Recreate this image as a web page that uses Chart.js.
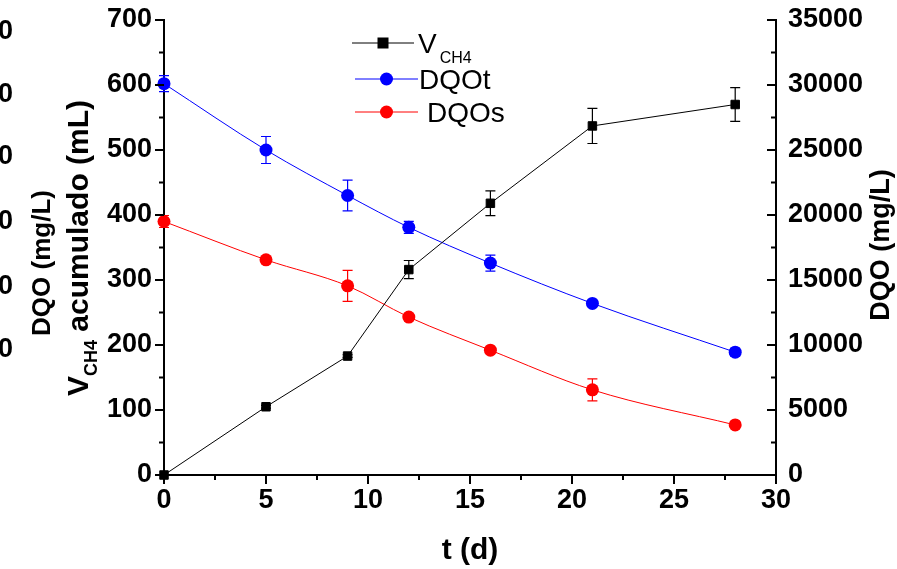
<!DOCTYPE html>
<html>
<head>
<meta charset="utf-8">
<script src="https://cdn.jsdelivr.net/npm/chart.js@4.4.0/dist/chart.umd.min.js"></script>
<style>
  html, body { margin: 0; padding: 0; background: #fff; }
  #wrap { width: 897px; height: 569px; }
</style>
</head>
<body>
<div id="wrap"><canvas id="grafico"></canvas></div>
<script>
// Dados
const dias = [0, 5, 9, 12, 16, 21, 28];
const volumeCH4 = [0, 105, 183, 316, 418, 537, 570];
const erroCH4 = [0, 2, 2, 14, 19, 27, 26];
const dqoTotal = [30100, 25000, 21500, 19050, 16300, 13200, 9450];
const erroDqoTotal = [615, 1040, 1190, 460, 615, 200, 300];
const dqoSoluvel = [19500, 16550, 14550, 12150, 9600, 6550, 3850];
const erroDqoSoluvel = [460, 230, 1190, 150, 150, 850, 100];
const ticksX = [0, 5, 10, 15, 20, 25, 30];
const ticksVolume = [0, 100, 200, 300, 400, 500, 600, 700];
const ticksDqo = [0, 5000, 10000, 15000, 20000, 25000, 30000, 35000];

const FONTE = "'Liberation Sans', Arial, sans-serif";

// Monta os pontos {x, y}
function pontos(valores) {
    return dias.map((d, i) => ({ x: d, y: valores[i] }));
}

// Desenha marcas maiores e menores de um eixo
function marcas(ctx, escala, valores, lado, area) {
    const passo = valores[1] - valores[0];
    const todos = [];
    valores.forEach((v, i) => {
        todos.push({ v: v, tam: 9 });
        if (i < valores.length - 1) todos.push({ v: v + passo / 2, tam: 5 });
    });
    ctx.beginPath();
    todos.forEach(t => {
        const p = escala.getPixelForValue(t.v);
        if (lado === 'esquerda') { ctx.moveTo(area.left, p); ctx.lineTo(area.left - t.tam, p); }
        if (lado === 'direita') { ctx.moveTo(area.right, p); ctx.lineTo(area.right - t.tam, p); }
        if (lado === 'baixo') { ctx.moveTo(p, area.bottom); ctx.lineTo(p, area.bottom + t.tam); }
    });
    ctx.stroke();
}

function marcador(ctx, tipo, cor, x, y) {
    ctx.fillStyle = cor;
    if (tipo === 'rect') {
        ctx.fillRect(x - 5.5, y - 5.5, 11, 11);
    } else {
        ctx.beginPath();
        ctx.arc(x, y, 6.5, 0, Math.PI * 2);
        ctx.fill();
    }
}

// Texto girado com parte em subscrito
function textoGirado(ctx, x, y, partes) {
    ctx.save();
    ctx.translate(x, y);
    ctx.rotate(-Math.PI / 2);
    ctx.textAlign = 'left';
    ctx.textBaseline = 'alphabetic';
    let total = 0;
    partes.forEach(p => { ctx.font = p.fonte; p.w = ctx.measureText(p.t).width; total += p.w; });
    let x0 = -total / 2;
    partes.forEach(p => {
        ctx.font = p.fonte;
        ctx.fillText(p.t, x0, p.dy || 0);
        x0 += p.w;
    });
    ctx.restore();
}

const extras = {
    id: 'extras',
    beforeDatasetsDraw(chart) {
        const ctx = chart.ctx;
        const ex = chart.scales.x;
        chart.data.datasets.forEach(ds => {
            const ey = chart.scales[ds.yAxisID];
            ctx.save();
            ctx.strokeStyle = ds.borderColor;
            ctx.lineWidth = 1.2;
            ds.erros.forEach((e, j) => {
                if (!e) return;
                const px = ex.getPixelForValue(ds.data[j].x);
                const p1 = ey.getPixelForValue(ds.data[j].y + e);
                const p2 = ey.getPixelForValue(ds.data[j].y - e);
                ctx.beginPath();
                ctx.moveTo(px, p1); ctx.lineTo(px, p2);
                ctx.moveTo(px - 5, p1); ctx.lineTo(px + 5, p1);
                ctx.moveTo(px - 5, p2); ctx.lineTo(px + 5, p2);
                ctx.stroke();
            });
            ctx.restore();
        });
    },
    afterDraw(chart) {
        const ctx = chart.ctx;
        const area = chart.chartArea;
        ctx.save();
        ctx.strokeStyle = '#000';
        ctx.lineWidth = 2;
        marcas(ctx, chart.scales.y, ticksVolume, 'esquerda', area);
        marcas(ctx, chart.scales.dqo, ticksDqo, 'direita', area);
        marcas(ctx, chart.scales.x, ticksX, 'baixo', area);

        ctx.fillStyle = '#000';
        // título do eixo x
        ctx.font = 'bold 30px ' + FONTE;
        ctx.textAlign = 'center';
        ctx.textBaseline = 'alphabetic';
        ctx.fillText('t (d)', (area.left + area.right) / 2, 559);

        // título do eixo direito
        textoGirado(ctx, 889, 245, [{ t: 'DQO (mg/L)', fonte: 'bold 27px ' + FONTE }]);

        // título do eixo esquerdo, com subscrito
        textoGirado(ctx, 88, 248, [
            { t: 'V', fonte: 'bold 30px ' + FONTE },
            { t: 'CH4', fonte: 'bold 18px ' + FONTE, dy: 9 },
            { t: ' acumulado (mL)', fonte: 'bold 30px ' + FONTE }
        ]);

        // restos de outro eixo cortado à esquerda
        textoGirado(ctx, 50, 263, [{ t: 'DQO (mg/L)', fonte: 'bold 26px ' + FONTE }]);
        ctx.font = 'bold 27px ' + FONTE;
        ctx.textAlign = 'right';
        ctx.textBaseline = 'middle';
        [32, 95, 157, 222, 287, 350].forEach(y => ctx.fillText('00', 13, y));

        // legenda
        const legenda = [
            { tipo: 'rect', cor: '#000000', y: 43, x1: 352, x2: 414, tx: 418, texto: 'V', sub: 'CH4' },
            { tipo: 'circle', cor: '#0000ff', y: 79, x1: 355, x2: 418, tx: 419, texto: 'DQOt' },
            { tipo: 'circle', cor: '#ff0000', y: 112, x1: 355, x2: 418, tx: 427, texto: 'DQOs' }
        ];
        ctx.textAlign = 'left';
        ctx.textBaseline = 'alphabetic';
        legenda.forEach(item => {
            ctx.strokeStyle = item.cor;
            ctx.lineWidth = 1;
            ctx.beginPath();
            ctx.moveTo(item.x1, item.y);
            ctx.lineTo(item.x2, item.y);
            ctx.stroke();
            marcador(ctx, item.tipo, item.cor, (item.x1 + item.x2) / 2, item.y);
            ctx.fillStyle = '#000';
            ctx.font = '28px ' + FONTE;
            ctx.fillText(item.texto, item.tx, item.y + 10);
            if (item.sub) {
                const w = ctx.measureText(item.texto).width;
                ctx.font = '16px ' + FONTE;
                ctx.fillText(item.sub, item.tx + w + 3, item.y + 20);
            }
        });
        ctx.restore();
    }
};

const fonteTicks = { family: FONTE, size: 27, weight: 'bold' };

// Largura fixa dos eixos verticais, sem folga extra em cima e embaixo
function fixaLargura(largura) {
    return s => {
        s.width = largura;
        s.paddingTop = 0;
        s.paddingBottom = 0;
    };
}

const config = {
    type: 'line',
    data: {
        datasets: [
            {
                label: 'VCH4',
                data: pontos(volumeCH4),
                erros: erroCH4,
                yAxisID: 'y',
                borderColor: '#000000',
                backgroundColor: '#000000',
                borderWidth: 1,
                pointStyle: 'rect',
                pointRadius: 6,
                pointHoverRadius: 6,
                tension: 0,
                clip: false
            },
            {
                label: 'DQOt',
                data: pontos(dqoTotal),
                erros: erroDqoTotal,
                yAxisID: 'dqo',
                borderColor: '#0000ff',
                backgroundColor: '#0000ff',
                borderWidth: 1,
                pointStyle: 'circle',
                pointRadius: 6.5,
                pointBorderWidth: 0,
                cubicInterpolationMode: 'monotone',
                clip: false
            },
            {
                label: 'DQOs',
                data: pontos(dqoSoluvel),
                erros: erroDqoSoluvel,
                yAxisID: 'dqo',
                borderColor: '#ff0000',
                backgroundColor: '#ff0000',
                borderWidth: 1,
                pointStyle: 'circle',
                pointRadius: 6.5,
                pointBorderWidth: 0,
                cubicInterpolationMode: 'monotone',
                clip: false
            }
        ]
    },
    options: {
        responsive: true,
        maintainAspectRatio: false,
        animation: false,
        layout: { padding: { top: 20, left: 0, right: 0, bottom: 0 } },
        plugins: {
            legend: { display: false },
            tooltip: { enabled: false }
        },
        scales: {
            x: {
                type: 'linear',
                min: 0,
                max: 30,
                afterBuildTicks: s => { s.ticks = ticksX.map(v => ({ value: v })); },
                afterFit: s => { s.height = 94; },
                grid: { display: false, drawTicks: false },
                border: { display: true, color: '#000', width: 2 },
                ticks: { color: '#000', font: fonteTicks, padding: 9, maxRotation: 0 }
            },
            y: {
                type: 'linear',
                position: 'left',
                min: 0,
                max: 700,
                afterBuildTicks: s => { s.ticks = ticksVolume.map(v => ({ value: v })); },
                afterFit: fixaLargura(164),
                grid: { display: false, drawTicks: false },
                border: { display: true, color: '#000', width: 2 },
                ticks: { color: '#000', font: fonteTicks, padding: 12 }
            },
            dqo: {
                type: 'linear',
                position: 'right',
                min: 0,
                max: 35000,
                afterBuildTicks: s => { s.ticks = ticksDqo.map(v => ({ value: v })); },
                afterFit: fixaLargura(121),
                grid: { display: false, drawTicks: false },
                border: { display: true, color: '#000', width: 2 },
                ticks: { color: '#000', font: fonteTicks, padding: 12, callback: v => String(v) }
            }
        }
    },
    plugins: [extras]
};

new Chart(document.getElementById('grafico'), config);
</script>
</body>
</html>
